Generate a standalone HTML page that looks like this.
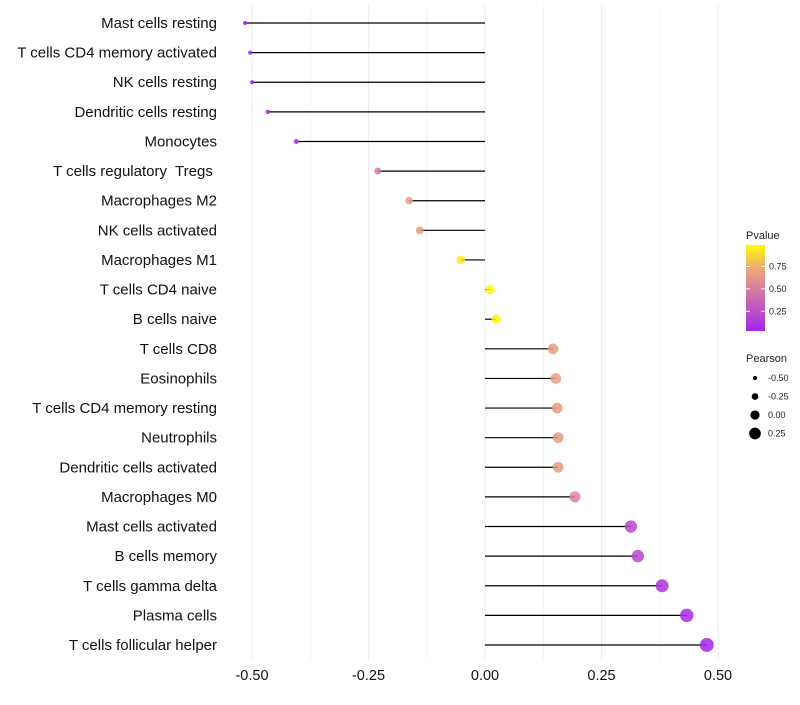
<!DOCTYPE html>
<html><head><meta charset="utf-8"><style>
body{margin:0;background:#fff;font-family:"Liberation Sans",sans-serif}
text{white-space:pre}
</style></head><body>
<svg id="chart" width="800" height="700" xmlns="http://www.w3.org/2000/svg"></svg>
<script>
const categories=["Mast cells resting","T cells CD4 memory activated","NK cells resting","Dendritic cells resting","Monocytes","T cells regulatory  Tregs ","Macrophages M2","NK cells activated","Macrophages M1","T cells CD4 naive","B cells naive","T cells CD8","Eosinophils","T cells CD4 memory resting","Neutrophils","Dendritic cells activated","Macrophages M0","Mast cells activated","B cells memory","T cells gamma delta","Plasma cells","T cells follicular helper"];
const pearson=[-0.515,-0.504,-0.5,-0.466,-0.405,-0.23,-0.163,-0.14,-0.052,0.011,0.024,0.146,0.152,0.155,0.157,0.157,0.193,0.313,0.328,0.38,0.433,0.476];
const pvalues=[0.03,0.04,0.04,0.06,0.1,0.45,0.66,0.68,0.93,0.98,0.97,0.65,0.65,0.65,0.65,0.65,0.55,0.22,0.2,0.12,0.06,0.03];
const xTicks=[-0.5,-0.25,0,0.25,0.5];
const xTickLabels=["-0.50","-0.25","0.00","0.25","0.50"];
const pTicks=[0.25,0.5,0.75];
const sizeTicks=[-0.5,-0.25,0,0.25];
const NS="http://www.w3.org/2000/svg";
const svg=document.getElementById('chart');
const x=v=>485+v*466;
const y=i=>23+i*(622/21);
const r=v=>2+(v+0.52)*5;
function col(p){
  const stops=[[0,[160,32,240]],[0.5,[215,125,160]],[0.75,[240,176,112]],[1,[255,255,0]]];
  for(let k=1;k<stops.length;k++){if(p<=stops[k][0]){const a=stops[k-1],b=stops[k];const t=(p-a[0])/(b[0]-a[0]);return 'rgb('+a[1].map((c,j)=>Math.round(c+(b[1][j]-c)*t)).join(',')+')';}}
  return 'rgb(255,255,0)';
}
function mk(t,a,txt){const e=document.createElementNS(NS,t);for(const k in a)e.setAttribute(k,a[k]);if(txt!==undefined)e.textContent=txt;svg.appendChild(e);return e;}
for(let g=-0.5;g<=0.5001;g+=0.125){
  const l=mk('line',{x1:x(g),x2:x(g),y1:5,y2:660,stroke:'#ebebeb','stroke-width':Math.abs(g*4%1)<0.01?1:0.6});
  
  
}
xTicks.forEach((t,i)=>{
  const e=mk('text',{x:x(t),y:680,'text-anchor':'middle','font-size':14.5,fill:'#111'},xTickLabels[i]);
  
  
});
categories.forEach((c,i)=>{
  const e=mk('text',{x:217,y:y(i)+5,'text-anchor':'end','font-size':15,fill:'#111'},c);
  
  
  const s=mk('line',{x1:x(0),x2:x(pearson[i]),y1:y(i),y2:y(i),stroke:'#000','stroke-width':1.2});
  
  
  const d=mk('circle',{cx:x(pearson[i]),cy:y(i),r:r(pearson[i]),fill:col(pvalues[i]),'fill-opacity':0.85});
  
  
});
const lt=mk('text',{x:746,y:239,'font-size':11,fill:'#222'},'Pvalue');


const defs=mk('defs',{});
const lg=document.createElementNS(NS,'linearGradient');lg.setAttribute('id','pg');lg.setAttribute('x1',0);lg.setAttribute('x2',0);lg.setAttribute('y1',1);lg.setAttribute('y2',0);
[0,0.25,0.5,0.75,1].forEach(o=>{const s=document.createElementNS(NS,'stop');s.setAttribute('offset',o);s.setAttribute('stop-color',col(0.03+o*0.96));lg.appendChild(s);});
defs.appendChild(lg);
const bar=mk('rect',{x:746,y:245,width:19,height:86,fill:'url(#pg)'});


const py=p=>331-(p-0.03)/0.96*86;
pTicks.forEach(p=>{
  mk('line',{x1:746,x2:750,y1:py(p),y2:py(p),stroke:'#fff'});mk('line',{x1:761,x2:765,y1:py(p),y2:py(p),stroke:'#fff'});
  const e=mk('text',{x:769,y:py(p)+3,'font-size':9,fill:'#222'},p.toFixed(2));
  
  
});
const st=mk('text',{x:746,y:362,'font-size':11,fill:'#222'},'Pearson');


sizeTicks.forEach((v,i)=>{
  const yy=378+i*18.5;
  const c=mk('circle',{cx:755,cy:yy,r:r(v),fill:'#000'});
  
  
  const e=mk('text',{x:768,y:yy+3,'font-size':9,fill:'#222'},v.toFixed(2));
  
  
});
</script>
</body></html>
